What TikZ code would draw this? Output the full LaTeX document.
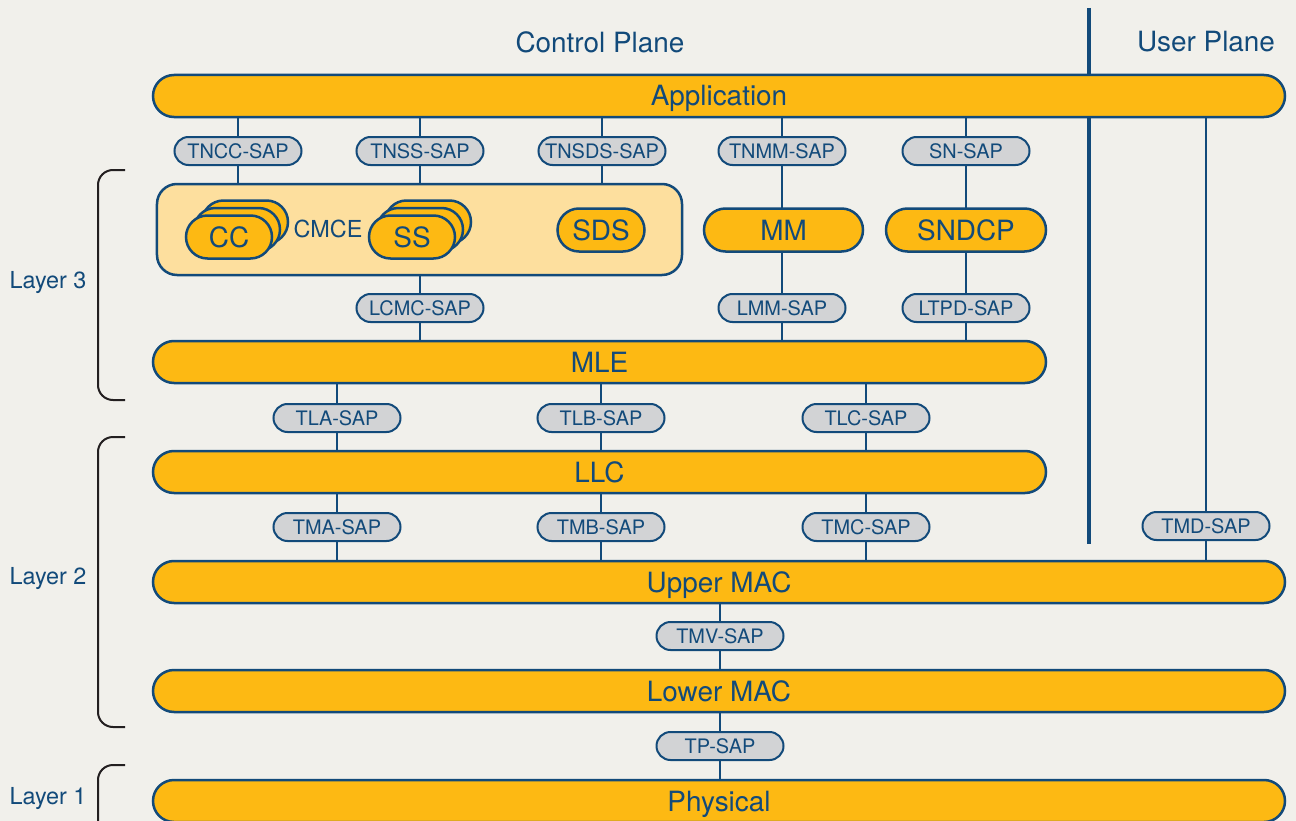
\documentclass[tikz,border=0pt]{standalone}
\usepackage{fontspec}
\setmainfont{TeX Gyre Heros}
\definecolor{bgc}{HTML}{F1F0EB}
\definecolor{org}{HTML}{FDB913}
\definecolor{blu}{HTML}{124A7A}
\definecolor{lor}{HTML}{FDDF9E}
\definecolor{sapg}{HTML}{D2D3D5}
\definecolor{brk}{HTML}{231F20}
\pgfdeclarelayer{bg}\pgfdeclarelayer{ln}\pgfsetlayers{bg,ln,main}
\tikzset{
  bar/.style={draw=blu, line width=2.5bp, fill=org, rounded corners=21bp, minimum height=42bp, inner sep=0pt, text=blu, font=\fontsize{28}{30}\selectfont, text height=20.5bp, text depth=0.5bp},
  sap/.style={draw=blu, line width=2bp, fill=sapg, rounded corners=14bp, minimum width=127bp, minimum height=28bp, inner sep=0pt, text=blu, font=\fontsize{20}{22}\selectfont},
  pill/.style={draw=blu, line width=2.5bp, fill=org, rounded corners=21.5bp, minimum width=86bp, minimum height=43bp, inner sep=0pt, text=blu, font=\fontsize{28}{30}\selectfont},
  modbox/.style={pill, minimum width=160bp},
  conn/.style={draw=blu, line width=2bp},
  brace/.style={draw=brk, line width=2bp, rounded corners=15bp},
  lbl/.style={text=blu, inner sep=0pt},
}
\begin{document}
\begin{tikzpicture}[x=1bp, y=-1bp]
\useasboundingbox (0,0) rectangle (1296,821);
\clip (0,0) rectangle (1296,821);
\begin{pgfonlayer}{bg}
\fill[bgc] (0,0) rectangle (1296,821);
\end{pgfonlayer}

% titles
\node[lbl, font=\fontsize{28}{30}\selectfont] (ctitle) at (600,42) {Control Plane};
\node[lbl, font=\fontsize{28}{30}\selectfont] (utitle) at (1206,42) {User Plane};

% bars
\node[bar, minimum width=1132bp] (app) at (719,96) {Application};
\node[bar, minimum width=893bp] (mle) at (599.5,362) {MLE};
\node[bar, minimum width=893bp] (llc) at (599.5,472) {LLC};
\node[bar, minimum width=1132bp] (umac) at (719,582) {Upper MAC};
\node[bar, minimum width=1132bp] (lmac) at (719,691) {Lower MAC};
\node[bar, minimum width=1132bp] (phys) at (719,801) {Physical};

% CMCE box
\node[draw=blu, line width=2.5bp, fill=lor, rounded corners=20bp, minimum width=525bp, minimum height=91bp, inner sep=0pt] (cmce) at (419.5,229.5) {};
\node[lbl, font=\fontsize{23.5}{26}\selectfont] (cmcet) at (328,229) {CMCE};
\node[pill] (cc3) at (245,222) {};
\node[pill] (cc2) at (237,229.5) {};
\node[pill] (cc) at (229,237) {CC};
\node[pill] (ss3) at (428,222) {};
\node[pill] (ss2) at (420,229.5) {};
\node[pill] (ss) at (412,237) {SS};
\node[pill, minimum width=87bp] (sds) at (601,230) {SDS};
\node[modbox, minimum width=159bp] (mm) at (783.5,230) {MM};
\node[modbox] (sndcp) at (966,230) {SNDCP};

% SAPs
\node[sap] (tncc) at (238,151) {TNCC-SAP};
\node[sap] (tnss) at (420,151) {TNSS-SAP};
\node[sap] (tnsds) at (602,151) {TNSDS-SAP};
\node[sap] (tnmm) at (782,151) {TNMM-SAP};
\node[sap] (sn) at (966,151) {SN-SAP};
\node[sap] (lcmc) at (420,308) {LCMC-SAP};
\node[sap] (lmm) at (782,308) {LMM-SAP};
\node[sap] (ltpd) at (966,308) {LTPD-SAP};
\node[sap] (tla) at (337,418) {TLA-SAP};
\node[sap] (tlb) at (601,418) {TLB-SAP};
\node[sap] (tlc) at (866,418) {TLC-SAP};
\node[sap] (tma) at (337,527) {TMA-SAP};
\node[sap] (tmb) at (601,527) {TMB-SAP};
\node[sap] (tmc) at (866,527) {TMC-SAP};
\node[sap] (tmd) at (1206,526) {TMD-SAP};
\node[sap] (tmv) at (720,636) {TMV-SAP};
\node[sap] (tp) at (720,746) {TP-SAP};

% layer labels
\node[lbl, font=\fontsize{23.5}{26}\selectfont] (l3) at (48,283) {Layer 3};
\node[lbl, font=\fontsize{23.5}{26}\selectfont] (l2) at (48,579) {Layer 2};
\node[lbl, font=\fontsize{23.5}{26}\selectfont] (l1) at (48,799) {Layer 1};

% divider
\coordinate (dtop) at (1089,8);
\coordinate (dbot) at (1089,544);

\begin{pgfonlayer}{ln}
\draw[blu, line width=4.5bp] (dtop) -- (dbot);
\draw[conn] (tncc |- app.center) -- (tncc |- cmce.center);
\draw[conn] (tnss |- app.center) -- (tnss |- cmce.center);
\draw[conn] (tnsds |- app.center) -- (tnsds |- cmce.center);
\draw[conn] (tnmm |- app.center) -- (tnmm |- mle.center);
\draw[conn] (sn |- app.center) -- (sn |- mle.center);
\draw[conn] (lcmc |- cmce.center) -- (lcmc |- mle.center);
\draw[conn] (tla |- mle.center) -- (tla |- llc.center);
\draw[conn] (tlb |- mle.center) -- (tlb |- llc.center);
\draw[conn] (tlc |- mle.center) -- (tlc |- llc.center);
\draw[conn] (tma |- llc.center) -- (tma |- umac.center);
\draw[conn] (tmb |- llc.center) -- (tmb |- umac.center);
\draw[conn] (tmc |- llc.center) -- (tmc |- umac.center);
\draw[conn] (tmd |- app.center) -- (tmd |- umac.center);
\draw[conn] (tmv |- umac.center) -- (tmv |- lmac.center);
\draw[conn] (tp |- lmac.center) -- (tp |- phys.center);
\end{pgfonlayer}

% braces
\draw[brace] (125,170) -| (98,400) -- (125,400);
\draw[brace] (125,437) -| (98,727) -- (125,727);
\draw[brace] (125,765) -| (98,840);
\end{tikzpicture}
\end{document}
